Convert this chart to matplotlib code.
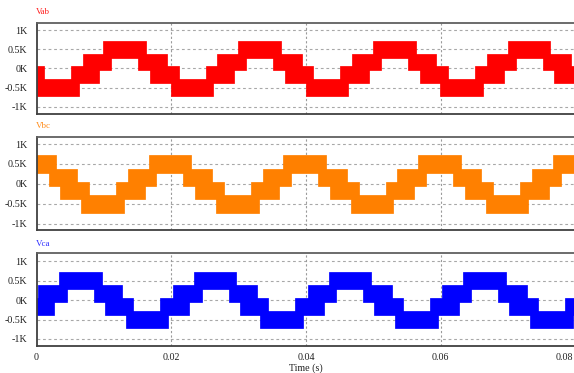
import matplotlib
matplotlib.use("Agg")
import matplotlib.pyplot as plt

# ---- data (times in ms, voltages in V) ----
series_names = ["Vab", "Vbc", "Vca"]
series_colors = ["#ff0000", "#ff8000", "#0000ff"]
label_colors = ["#ff2020", "#ff8c1a", "#3030ff"]

# centres of positive / negative half-waves (ms)
vab_pos_ms = [13.1, 33.1, 53.1, 73.1]
vab_neg_ms = [3.1, 23.1, 43.1, 63.1, 83.1]
vbc_pos_ms = [-0.2, 19.8, 39.8, 59.8, 79.8]
vbc_neg_ms = [9.8, 29.8, 49.8, 69.8]
vca_pos_ms = [6.5, 26.5, 46.5, 66.5]
vca_neg_ms = [-3.6, 16.4, 36.4, 56.4, 76.4]

level_step_v = 335.0          # one voltage level of the multilevel waveform
outer_band_half_ms = 2.86     # half width of the outer (peak) PWM band
inner_band_from_ms = 2.3      # inner PWM band starts this far from the centre
inner_band_to_ms = 5.95       # ... and ends this far from the centre

ytick_vals = [-1000, -500, 0, 500, 1000]
ytick_labels = ["-1K", "-0.5K", "0K", "0.5K", "1K"]
xtick_vals = [0, 0.02, 0.04, 0.06, 0.08]
xtick_labels = ["0", "0.02", "0.04", "0.06", "0.08"]

pos_list = [vab_pos_ms, vbc_pos_ms, vca_pos_ms]
neg_list = [vab_neg_ms, vbc_neg_ms, vca_neg_ms]

# ---- layout ----
W, H = 574, 373
fig = plt.figure(figsize=(W / 100, H / 100), dpi=100)
serif = ["Liberation Serif", "DejaVu Serif"]
fs = 7.2

left_px, right_px = 36.5, 575.5
axes_px = [(22.7, 114.0), (137.3, 230.0), (253.3, 346.0)]
ylims = [(-1185, 1190), (-1160, 1170), (-1180, 1200)]
label_y_px = [12.0, 126.5, 244.0]

for i in range(3):
    top, bot = axes_px[i]
    ax = fig.add_axes([left_px / W, 1 - bot / H, (right_px - left_px) / W, (bot - top) / H])
    col = series_colors[i]

    def band(t0, t1, lo, hi):
        ax.fill_between([t0 / 1000.0, t1 / 1000.0], [lo, lo], [hi, hi],
                        facecolor=col, edgecolor=col, linewidth=3.4,
                        joinstyle="miter", zorder=3)

    for sign, centres in ((1, pos_list[i]), (-1, neg_list[i])):
        for c in centres:
            band(c - outer_band_half_ms, c + outer_band_half_ms,
                 sign * level_step_v, sign * 2 * level_step_v)
            band(c - inner_band_to_ms, c - inner_band_from_ms, 0, sign * level_step_v)
            band(c + inner_band_from_ms, c + inner_band_to_ms, 0, sign * level_step_v)

    ax.set_xlim(0, 0.08)
    ax.set_ylim(*ylims[i])
    ax.set_yticks(ytick_vals)
    ax.set_yticklabels(ytick_labels, fontfamily=serif, fontsize=fs)
    ax.set_xticks(xtick_vals)
    if i == 2:
        ax.set_xticklabels(xtick_labels[:-1] + [""], fontfamily=serif, fontsize=fs)
        # last label is pulled inside the plot area, as in the reference
        ax.annotate(xtick_labels[-1], xy=(xtick_vals[-1], 0), xycoords=("data", "axes fraction"),
                    xytext=(-2, -5.2), textcoords="offset points", ha="right", va="top",
                    fontfamily=serif, fontsize=fs, color="#202020", annotation_clip=False)
    else:
        ax.set_xticklabels([])
    ax.tick_params(length=0, pad=6.5, colors="#202020")
    ax.tick_params(axis="x", pad=5)
    for y in ytick_vals:
        ax.axhline(y, color="#a8a8a8", lw=0.8, ls=(0, (2.5, 2.5)), zorder=1)
    for x in xtick_vals[1:-1]:
        ax.axvline(x, color="#9a9a9a", lw=0.8, ls=(0, (2.0, 2.0)), zorder=1)
    for s in ax.spines.values():
        s.set_color("#606060")
        s.set_linewidth(1.3)
        s.set_zorder(5)
    ax.spines["left"].set_color("#404040")
    ax.spines["bottom"].set_color("#404040")

    fig.text(36 / W, 1 - label_y_px[i] / H, series_names[i], color=label_colors[i],
             fontfamily=serif, fontsize=6.5, ha="left", va="center")

fig.text(306 / W, 1 - 368 / H, "Time (s)", fontfamily=serif, fontsize=fs,
         ha="center", va="center", color="#202020")

fig.savefig("out.png", dpi=100)
